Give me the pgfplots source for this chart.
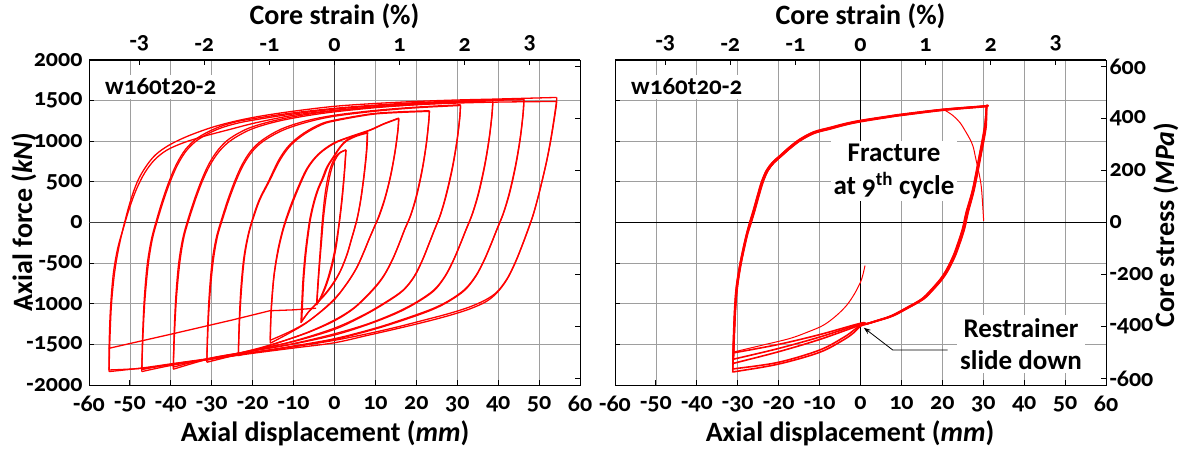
\documentclass[border=0pt]{standalone}
\usepackage{fontspec}
\setmainfont{Carlito}[Numbers=OldStyle]
\usepackage{pgfplots}
\pgfplotsset{compat=1.18}
\usetikzlibrary{arrows.meta}
\newcommand{\tickfont}{\fontsize{24}{24}\selectfont\bfseries}
\newcommand{\labfont}{\fontsize{28}{28}\selectfont\bfseries}
\pgfplotsset{
  panel/.style={scale only axis, width=491pt, height=325pt, anchor=south west,
    xmin=-60, xmax=60, ymin=-2000, ymax=2000,
    axis line style={black, line width=1pt},
    tick style={black, line width=0.9pt}, major tick length=5pt, tick align=inside,
    tick label style={font=\tickfont}},
  mainax/.style={panel, grid=major, grid style={black!38, line width=0.8pt},
    xtick={-60,-50,...,60},
    xticklabels={-60,-50,-40,-30,-20,-10,0,10,20,30,40,50,60},
    xticklabel style={yshift=-8pt},
    yticklabel style={xshift=-3pt},
    ytick={-2000,-1500,...,2000},
    xtick pos=left, ytick pos=left},
  topax/.style={panel, ymin=0, ymax=1, axis x line*=top, axis y line=none,
    xtick={-47.7,-31.8,-15.9,0,15.9,31.8,47.7},
    xticklabels={-3,-2,-1,0,1,2,3}, xticklabel style={yshift=5pt}},
  rightax/.style={panel, ymin=-625, ymax=625, axis y line*=right, axis x line=none,
    ytick={-600,-400,...,600}},
  lp/.style={red, line width=1.3pt, line join=round, smooth, tension=0.55},
  lq/.style={red, line width=1.3pt, line join=round},
  rp/.style={red, line width=1.6pt, line join=round, smooth, tension=0.55},
  rt/.style={red, line width=1pt, line join=round, smooth, tension=0.55},
}
\begin{document}
\begin{tikzpicture}
\useasboundingbox (0,0) rectangle (1182pt,451pt);
% ================= LEFT PANEL =================
\begin{axis}[mainax, at={(89pt,66pt)},
  yticklabels={-2000,-1500,-1000,-500,0,500,1000,1500,2000}]
\draw[black!75, line width=1pt] (axis cs:-60,0) -- (axis cs:60,0);
\draw[black!75, line width=1pt] (axis cs:0,-2000) -- (axis cs:0,2000);
% level 1
\addplot[lp] coordinates {(-4.4,-1016) (-4.0,-700) (-3.5,-350) (-3.0,0) (-2.3,350) (-1.3,620) (0,790) (1.3,860) (2.8,893)};
\addplot[lp] coordinates {(2.8,893) (2.5,650) (1.9,300) (1.2,0) (0.4,-300) (-0.8,-580) (-2.2,-800) (-3.4,-930) (-4.4,-1016)};
\addplot[lp] coordinates {(-4.3,-1000) (-3.8,-620) (-3.2,-250) (-2.6,100) (-1.7,430) (-0.6,680) (1,840) (2.8,893)};
\addplot[lp] coordinates {(2.8,893) (2.3,560) (1.6,200) (0.8,-120) (-0.3,-430) (-1.7,-700) (-3.2,-900) (-4.3,-1000)};
% level 2
\addplot[lp] coordinates {(-8.2,-1234) (-8.0,-1000) (-7.7,-700) (-7.2,-400) (-6.6,-150) (-6.0,50) (-5.1,250) (-4.1,410) (-3,540) (-1.9,680) (0,830) (1.5,940) (3,1015) (5.5,1075) (8.1,1110)};
\addplot[lp] coordinates {(8.1,1110) (7.9,893) (7.3,600) (6.5,300) (5.7,80) (5.0,-60) (4.2,-200) (3.1,-390) (1.6,-580) (0,-720) (-2,-860) (-4.5,-1000) (-6.5,-1110) (-8.2,-1234)};
\addplot[lp] coordinates {(-8.0,-1215) (-7.8,-980) (-7.5,-690) (-7.0,-390) (-6.4,-140) (-5.8,60) (-4.9,255) (-3.9,415) (-2.7,550) (-1.6,690) (0,820) (1.5,930) (3,1005) (5.5,1065) (8.0,1100)};
\addplot[lp] coordinates {(8.0,1100) (7.8,880) (7.2,585) (6.4,285) (5.6,65) (4.9,-70) (4.1,-210) (3.0,-400) (1.5,-590) (0,-730) (-2,-870) (-4.5,-1005) (-6.4,-1105) (-8.0,-1215)};
% level 3
\addplot[lp] coordinates {(-15.7,-1486) (-15.6,-1250) (-15.4,-1000) (-14.8,-650) (-13.8,-330) (-12.5,-60) (-11,170) (-9.2,400) (-6.8,660) (-4,840) (-0.3,975) (4,1060) (8.7,1140) (12,1215) (15.7,1285)};
\addplot[lp] coordinates {(15.7,1285) (15.5,1140) (14.8,880) (13.7,580) (12.3,300) (10.9,90) (9.7,-60) (8.5,-200) (7.2,-360) (5.6,-540) (3.7,-700) (1.4,-860) (0,-940) (-3,-1080) (-7,-1240) (-11,-1360) (-15.7,-1486)};
\addplot[lp] coordinates {(-15.7,-1449) (-15.6,-1220) (-15.3,-970) (-14.7,-630) (-13.6,-310) (-12.3,-50) (-10.7,180) (-8.9,410) (-6.5,670) (-3.7,845) (0,975) (4,1055) (8.7,1135) (12,1210) (15.7,1280)};
\addplot[lp] coordinates {(15.7,1280) (15.5,1130) (14.8,865) (13.7,565) (12.3,285) (10.9,75) (9.6,-70) (8.4,-210) (7.1,-370) (5.5,-550) (3.6,-710) (1.3,-870) (0,-950) (-3,-1085) (-7,-1235) (-11,-1345) (-15.7,-1449)};
% level 4
\addplot[lp] coordinates {(-23.5,-1640) (-23.3,-1240) (-22.9,-830) (-22.2,-450) (-21.2,-170) (-20,50) (-18.4,280) (-16.2,500) (-13.5,780) (-10.9,960) (-7.5,1100) (-3.5,1210) (0,1260) (8.7,1336) (15,1360) (23.2,1376)};
\addplot[lp] coordinates {(23.2,1376) (23,1230) (22.4,960) (21.4,650) (20,330) (18.6,90) (17.2,-80) (15.9,-250) (14.3,-440) (12.2,-640) (9.6,-810) (5,-1040) (0,-1200) (-6,-1340) (-12,-1450) (-18,-1550) (-23.5,-1640)};
\addplot[lp] coordinates {(-23.5,-1612) (-23.2,-1210) (-22.7,-800) (-22,-430) (-21,-150) (-19.8,60) (-18.2,285) (-16,500) (-13.3,770) (-10.7,950) (-7.3,1090) (-3.3,1200) (0,1250) (8.7,1328) (15,1352) (23.2,1368)};
\addplot[lp] coordinates {(23.2,1368) (23,1220) (22.4,945) (21.4,630) (20,310) (18.5,70) (17.1,-90) (15.8,-260) (14.2,-455) (12.1,-655) (9.5,-825) (4.8,-1055) (0,-1210) (-6,-1345) (-12,-1450) (-18,-1540) (-23.5,-1612)};
% level 5
\addplot[lp] coordinates {(-31.2,-1720) (-31.0,-1300) (-30.6,-880) (-29.9,-480) (-28.9,-190) (-27.6,40) (-26,290) (-24.3,520) (-22.5,720) (-20.3,890) (-17.5,1020) (-13,1150) (-7,1250) (0,1320) (10,1380) (20,1420) (30.8,1449)};
\addplot[lp] coordinates {(30.8,1449) (30.6,1290) (29.9,1000) (28.8,680) (27.3,350) (25.9,100) (24.5,-80) (23.1,-260) (21.5,-460) (19.5,-660) (16.8,-830) (12.5,-980) (7,-1140) (0,-1300) (-10,-1460) (-20,-1580) (-31.2,-1720)};
\addplot[lp] coordinates {(-31.2,-1694) (-30.9,-1280) (-30.4,-860) (-29.6,-460) (-28.6,-170) (-27.3,50) (-25.7,295) (-24,520) (-22.2,715) (-20,880) (-17.2,1008) (-12.5,1138) (-6.5,1238) (0,1308) (10,1370) (20,1412) (30.8,1440)};
\addplot[lp] coordinates {(30.8,1440) (30.6,1280) (29.9,985) (28.8,660) (27.3,330) (25.8,80) (24.4,-95) (23,-275) (21.4,-475) (19.4,-675) (16.6,-845) (12.3,-995) (6.8,-1155) (0,-1315) (-10,-1465) (-20,-1570) (-31.2,-1694)};
% level 6
\addplot[lp] coordinates {(-39.4,-1806) (-39.2,-1380) (-38.8,-930) (-38.1,-510) (-37.1,-200) (-35.8,40) (-34.2,290) (-32.5,520) (-30.7,720) (-28.5,890) (-25.7,1030) (-21,1160) (-15,1250) (-8,1320) (0,1375) (10,1425) (20,1460) (30,1488) (38.7,1511)};
\addplot[lp] coordinates {(38.7,1511) (38.5,1340) (37.8,1040) (36.7,710) (35.2,370) (33.7,110) (32.2,-80) (30.7,-270) (29,-470) (27,-660) (24.3,-830) (20,-980) (15,-1110) (8,-1250) (0,-1370) (-10,-1490) (-20,-1580) (-30,-1670) (-39.4,-1806)};
\addplot[lp] coordinates {(-39.4,-1780) (-39.1,-1360) (-38.6,-910) (-37.8,-490) (-36.8,-180) (-35.5,50) (-33.9,295) (-32.2,520) (-30.4,710) (-28.1,880) (-25.2,1015) (-20.5,1145) (-14.5,1238) (-7.5,1308) (0,1362) (10,1413) (20,1450) (30,1478) (38.7,1498)};
\addplot[lp] coordinates {(38.7,1498) (38.5,1330) (37.8,1025) (36.7,690) (35.2,350) (33.6,90) (32.1,-95) (30.6,-285) (28.9,-485) (26.9,-675) (24.2,-845) (19.8,-995) (14.8,-1125) (7.8,-1262) (0,-1385) (-10,-1495) (-20,-1580) (-30,-1665) (-39.4,-1780)};
% level 7
\addplot[lp] coordinates {(-47.1,-1835) (-46.9,-1400) (-46.5,-950) (-45.8,-530) (-44.8,-220) (-43.5,30) (-42,280) (-40.4,510) (-38.6,720) (-36.4,900) (-33.5,1040) (-29,1160) (-24,1240) (-17,1300) (-10,1350) (0,1405) (10,1445) (20,1475) (30,1495) (40,1512) (46.3,1523)};
\addplot[lp] coordinates {(46.3,1523) (46.1,1350) (45.4,1050) (44.3,720) (42.8,380) (41.3,120) (39.8,-70) (38.3,-260) (36.6,-460) (34.6,-650) (31.9,-820) (28,-960) (24,-1060) (18,-1170) (10,-1300) (0,-1430) (-10,-1520) (-20,-1600) (-30,-1680) (-40,-1760) (-47.1,-1835)};
\addplot[lp] coordinates {(-47.1,-1810) (-46.8,-1380) (-46.3,-930) (-45.5,-510) (-44.5,-200) (-43.2,40) (-41.7,285) (-40.1,510) (-38.3,715) (-36.1,890) (-33.2,1025) (-28.7,1145) (-23.5,1225) (-16.5,1288) (-9.5,1340) (0,1395) (10,1437) (20,1468) (30,1490) (40,1505) (46.3,1510)};
\addplot[lp] coordinates {(46.3,1510) (46.1,1340) (45.4,1030) (44.3,700) (42.8,360) (41.2,100) (39.7,-85) (38.2,-275) (36.5,-475) (34.5,-665) (31.8,-835) (27.8,-975) (23.8,-1075) (17.8,-1185) (10,-1310) (0,-1440) (-10,-1525) (-20,-1600) (-30,-1675) (-40,-1745) (-47.1,-1810)};
% level 8
\addplot[lp] coordinates {(-55.1,-1835) (-54.9,-1450) (-54.5,-1000) (-53.7,-600) (-52.6,-280) (-51.3,0) (-49.9,260) (-48.2,500) (-46.2,680) (-43.8,830) (-40.5,950) (-36,1060) (-30,1170) (-24,1250) (-18,1310) (-10,1370) (0,1430) (10,1465) (20,1490) (30,1508) (40,1520) (54.3,1539)};
\addplot[lp] coordinates {(54.3,1539) (54.2,1470) (53.1,1100) (51.9,772) (50.2,402) (48.7,120) (47.3,-90) (45.8,-290) (44.1,-500) (42.2,-690) (39.8,-850) (37,-950) (33,-1040) (28,-1120) (22,-1200) (15,-1290) (8,-1370) (0,-1450) (-10,-1530) (-20,-1600) (-30,-1670) (-40,-1740) (-47,-1790) (-55.1,-1835)};
\addplot[lp] coordinates {(-55.1,-1548) (-54.8,-1100) (-54.1,-650) (-53,-320) (-51.6,-70) (-50.1,180) (-48.4,410) (-46.4,610) (-44,770) (-41,890) (-37,980) (-32,1060) (-26,1140) (-19,1230) (-10,1320) (0,1380) (10,1420) (20,1450) (30,1470) (40,1482) (54.3,1490)};
\addplot[lp] coordinates {(54.3,1490) (54.1,1400) (53,1050) (51.8,740) (50.1,380) (48.6,100) (47.2,-100) (45.7,-305) (44,-515) (42.1,-705) (39.7,-865) (37,-975) (33,-1065) (28,-1145) (22,-1225) (15,-1310) (8,-1390) (0,-1480) (-10,-1545) (-20,-1610) (-30,-1680) (-40,-1750) (-47,-1795) (-55.1,-1815)};
\addplot[lq] coordinates {(-55.1,-1815) (-55.1,-1548) (-40,-1375) (-25,-1200) (-15.8,-1086) (-10,-1075) (-4.5,-1055)};
\end{axis}
\begin{axis}[topax, at={(89pt,66pt)}]
\end{axis}
\begin{axis}[rightax, at={(89pt,66pt)}, yticklabels={}]
\end{axis}
% ================= RIGHT PANEL =================
\begin{axis}[mainax, at={(615pt,66pt)}, yticklabels={}]
\draw[black, line width=0.8pt] (axis cs:-60,0) -- (axis cs:60,0);
\draw[black, line width=0.8pt] (axis cs:0,-2000) -- (axis cs:0,2000);
\addplot[rt] coordinates {(1.1,-530) (0.6,-640) (0,-734) (-1.5,-880) (-3.4,-1020) (-6,-1150) (-9.1,-1265) (-13,-1350) (-17.3,-1428) (-24,-1510) (-30.8,-1591)};
% upper branches
\addplot[rp] coordinates {(-31.2,-1836) (-31.1,-1500) (-30.8,-1100) (-30.4,-816) (-29.6,-550) (-28.7,-326) (-27.9,-150) (-27.1,0) (-26.2,150) (-25.2,330) (-24.2,500) (-23,640) (-21.5,740) (-19.8,816) (-17.5,920) (-14.9,1020) (-11.5,1110) (-7.5,1163) (-4,1210) (0,1250) (7.2,1306) (10,1326) (20,1387) (30.2,1430) (30.8,1440)};
\addplot[rp] coordinates {(-31.2,-1800) (-31.0,-1470) (-30.6,-1080) (-30.2,-800) (-29.4,-535) (-28.5,-310) (-27.7,-135) (-26.9,0) (-26.0,150) (-25.0,330) (-24.0,495) (-22.8,632) (-21.3,730) (-19.6,806) (-17.3,908) (-14.7,1008) (-11.3,1098) (-7.3,1152) (-3.8,1200) (0,1240) (7.2,1298) (10,1318) (20,1380) (30.2,1425) (30.8,1435)};
\addplot[rp] coordinates {(-31.2,-1734) (-31.0,-1420) (-30.7,-1060) (-30.3,-790) (-29.5,-530) (-28.6,-310) (-27.8,-140) (-27.0,0) (-26.1,155) (-25.1,335) (-24.1,505) (-22.9,645) (-21.4,745) (-19.7,822) (-17.4,926) (-14.8,1026) (-11.4,1116) (-7.4,1170) (-3.9,1216) (0,1256) (7.2,1312) (10,1332) (20,1392) (30.2,1434) (30.8,1442)};
\addplot[rp] coordinates {(-31.0,-1680) (-30.9,-1400) (-30.6,-1050) (-30.1,-780) (-29.3,-520) (-28.4,-300) (-27.6,-130) (-26.8,0) (-25.9,150) (-24.9,330) (-23.9,498) (-22.7,636) (-21.2,735) (-19.5,812) (-17.2,915) (-14.6,1014) (-11.2,1104) (-7.2,1158) (-3.7,1205) (0,1246) (7.2,1302) (10,1322) (20,1384) (30.2,1428) (30.8,1438)};
\addplot[rp] coordinates {(-31.0,-1600) (-30.8,-1350) (-30.5,-1020) (-30.0,-760) (-29.2,-510) (-28.3,-295) (-27.5,-125) (-26.7,0) (-25.8,152) (-24.8,332) (-23.8,500) (-22.6,640) (-21.1,740) (-19.4,818) (-17.1,922) (-14.5,1022) (-11.1,1112) (-7.1,1166) (-3.6,1212) (0,1252) (7.2,1308) (10,1328) (20,1390) (30.2,1432) (30.8,1440)};
% unloading and lower branches
\addplot[rp] coordinates {(30.8,1440) (30.7,1300) (30.4,1142) (29.2,816) (27.6,408) (26.1,122) (25.2,-82) (23.6,-326) (22.6,-451) (21.2,-590) (19.8,-697) (17.5,-830) (15.2,-943) (11.5,-1050) (7.8,-1148) (4,-1210) (1.4,-1250) (0,-1268) (-1.5,-1320) (-4,-1410) (-10,-1570) (-20,-1720) (-30,-1795) (-31.2,-1800)};
\addplot[rp] coordinates {(30.8,1435) (30.6,1300) (30.2,1142) (29.0,816) (27.4,408) (25.8,122) (24.9,-82) (23.3,-326) (22.3,-451) (20.9,-590) (19.5,-697) (17.2,-830) (14.9,-943) (11.2,-1050) (7.5,-1148) (3.8,-1210) (1.3,-1250) (0,-1262) (-10,-1440) (-20,-1590) (-30,-1720) (-31.2,-1734)};
\addplot[rp] coordinates {(30.8,1442) (30.8,1300) (30.6,1142) (29.4,816) (27.8,408) (26.3,122) (25.4,-82) (23.8,-326) (22.8,-451) (21.4,-590) (20,-697) (17.7,-830) (15.4,-943) (11.7,-1050) (8,-1148) (4.2,-1210) (1.5,-1248) (0,-1250) (-10,-1410) (-20,-1550) (-30,-1670) (-31.0,-1680)};
\addplot[rp] coordinates {(30.8,1438) (30.6,1300) (30.3,1142) (29.1,816) (27.5,408) (25.9,122) (25.0,-82) (23.4,-326) (22.4,-451) (21.0,-590) (19.6,-697) (17.3,-830) (15.0,-943) (11.3,-1050) (7.6,-1148) (3.9,-1210) (1.3,-1245) (0,-1240) (-10,-1380) (-20,-1500) (-30,-1595) (-31.0,-1600)};
\addplot[rp] coordinates {(30.8,1440) (30.7,1300) (30.5,1142) (29.3,816) (27.7,408) (26.2,122) (25.3,-82) (23.7,-326) (22.7,-451) (21.3,-590) (19.9,-697) (17.6,-830) (15.3,-943) (11.6,-1050) (7.9,-1148) (4.1,-1210) (1.4,-1252) (0,-1275) (-1.5,-1350) (-4,-1440) (-10,-1598) (-20,-1742) (-30,-1830) (-31.2,-1836)};
\addplot[rt] coordinates {(20.2,1395) (22.5,1320) (24.3,1230) (25.8,1110) (26.7,1030) (27.5,938) (28.2,780) (29.1,571) (29.6,400) (30.1,20)};
\draw[-{Stealth[length=7pt,width=5pt]}, black, line width=0.8pt] (axis cs:21.3,-1570) -- (axis cs:7.9,-1570) -- (axis cs:0.8,-1295);
\end{axis}
\begin{axis}[topax, at={(615pt,66pt)}]
\end{axis}
\begin{axis}[rightax, at={(615pt,66pt)},
  yticklabels={-600,-400,-200,0,200,400,600},
  yticklabel style={anchor=west}]
\end{axis}
% ================= TEXT =================
\node[font=\labfont, anchor=base] at (334.5pt,426pt) {Core strain (\%)};
\node[font=\labfont, anchor=base] at (860.5pt,426pt) {Core strain (\%)};
\node[font=\labfont, anchor=base] at (325pt,9.5pt) {Axial displacement (\textit{mm})};
\node[font=\labfont, anchor=base] at (850pt,9.5pt) {Axial displacement (\textit{mm})};
\node[font=\labfont, anchor=base, rotate=90] at (32pt,229pt) {Axial force (\textit{kN})};
\node[font=\labfont, anchor=base, rotate=90] at (1174pt,226pt) {Core stress (\textit{MPa})};
\node[font=\fontsize{25}{25}\selectfont\bfseries, fill=white, anchor=west, inner xsep=3pt, inner ysep=4pt] at (102pt,364pt) {w160t20-2};
\node[font=\fontsize{25}{25}\selectfont\bfseries, fill=white, anchor=west, inner xsep=3pt, inner ysep=4pt] at (628pt,364pt) {w160t20-2};
\node[font=\fontsize{27}{33}\selectfont\bfseries, fill=white, align=center, inner sep=3pt] at (894pt,280pt) {Fracture\\at 9\textsuperscript{th} cycle};
\node[font=\fontsize{27}{32}\selectfont\bfseries, fill=white, align=center, inner sep=3pt] at (1021pt,107pt) {Restrainer\\slide down};
\end{tikzpicture}
\end{document}
